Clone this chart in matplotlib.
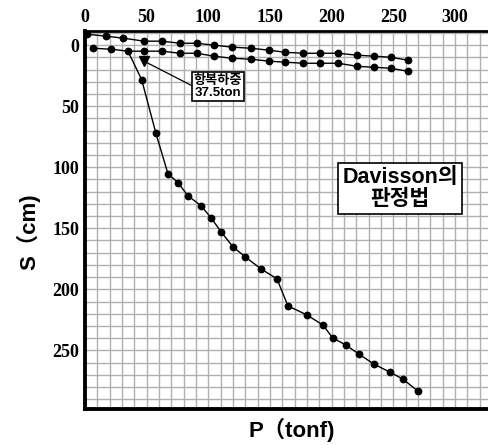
import numpy as np
import matplotlib
matplotlib.use('Agg')
from matplotlib import pyplot as plt
from matplotlib.ticker import MultipleLocator

plt.rcParams['font.family'] = ['Liberation Sans', 'Noto Sans CJK KR', 'DejaVu Sans']

# upper curve
p_up = [1.6, 17, 30.8, 47.9, 62.4, 77, 90.8, 104.6, 119.2, 134.6, 149.2, 162.2,
        176.8, 190.6, 205.2, 220.6, 234.4, 248.2, 262]
s_up = [-9.0, -7.4, -5.8, -3.3, -3.3, -1.6, -1.6, 0, 1.6, 2.5, 4.1, 5.8,
        6.6, 6.6, 6.6, 8.2, 9.0, 9.9, 12.3]

# lower curve
p_low = [6.5, 21.1, 34.9, 47.9, 62.4, 77, 90.8, 104.6, 119.2, 134.6, 149.2, 162.2,
         176.8, 190.6, 205.2, 220.6, 234.4, 248.2, 262]
s_low = [2.5, 3.3, 4.9, 4.9, 4.9, 6.6, 6.6, 9.0, 10.7, 11.5, 13.1, 13.9,
         14.8, 14.8, 14.8, 17.3, 18.1, 18.9, 21.4]

# load-settlement curve
p_main = [34.9, 46.0, 57.6, 67.3, 75.4, 83.5, 94.1, 102.2, 110.3, 120, 129.8, 142.7,
          155.7, 164.6, 180, 193, 201, 211.7, 222.2, 234.4, 247.4, 257.9, 270.1]
s_main = [4.9, 28.2, 72.3, 105.2, 112.6, 123.3, 131.5, 141.3, 152.8, 165.1, 173.3, 183.2,
          191.4, 213.6, 221, 229.3, 239.9, 245.7, 253.1, 261.3, 267.9, 273.6, 283.5]

# yield point
p_yield = 47.9
s_yield = 13.1

fig = plt.figure(figsize=(4.88, 4.45), dpi=100)
ax = fig.add_axes([0.174, 0.081, 0.826, 0.849])

ax.plot(p_up, s_up, 'k-o', lw=1, ms=4.6)
ax.plot(p_low, s_low, 'k-o', lw=1, ms=4.6)
ax.plot(p_main[1:], s_main[1:], 'k-o', lw=1, ms=4.6)
ax.plot(p_main[:2], s_main[:2], 'k-', lw=1)
ax.plot(p_yield, s_yield, 'kv', ms=6.5)

ax.annotate('항복하중\n37.5ton', xy=(p_yield + 2, s_yield + 1), xytext=(108, 34),
            ha='center', va='center', fontsize=9.5, fontweight='bold', linespacing=1.05,
            bbox=dict(boxstyle='square,pad=0.15', fc='white', ec='black', lw=1.2),
            arrowprops=dict(arrowstyle='-', color='black', lw=0.9, shrinkA=0, shrinkB=0,
                            relpos=(0, 0.5)))

ax.text(255.5, 117.5, 'Davisson의\n판정법', ha='center', va='center', fontsize=15.5,
        fontweight='bold', linespacing=1.05,
        bbox=dict(boxstyle='square,pad=0.2', fc='white', ec='black', lw=1.2))

ax.set_xlim(0, 326.8)
ax.set_ylim(298, -11.5)
ax.xaxis.set_major_locator(MultipleLocator(50))
ax.yaxis.set_major_locator(MultipleLocator(50))
ax.xaxis.set_minor_locator(MultipleLocator(10))
ax.yaxis.set_minor_locator(MultipleLocator(10))
ax.grid(which='both', color='#b0b0b0', lw=1.0)
ax.set_axisbelow(True)
ax.xaxis.tick_top()
ax.tick_params(which='both', length=0, pad=4)
for lab in ax.get_xticklabels() + ax.get_yticklabels():
    lab.set_family('Liberation Serif')
    lab.set_fontweight('bold')
    lab.set_fontsize(13)

ax.spines['right'].set_visible(False)
ax.spines['left'].set_linewidth(2.8)
ax.spines['bottom'].set_linewidth(2.8)
ax.spines['top'].set_linewidth(2)

fig.text(0.598, 0.034, 'P（tonf)', ha='center', va='center', fontsize=16,
         fontweight='bold')
fig.text(0.058, 0.479, 'S（cm)', ha='center', va='center', fontsize=16,
         fontweight='bold', rotation=90)

fig.savefig('out.png', dpi=100)
